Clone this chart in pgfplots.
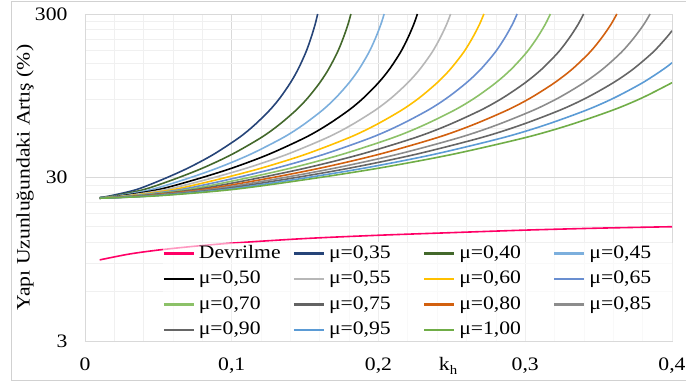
\documentclass[border=0pt]{standalone}
\usepackage{fontspec}
\setmainfont[FakeStretch=1.14]{Liberation Serif}
\usepackage{pgfplots}
\pgfplotsset{compat=1.18}
\definecolor{cdev}{HTML}{FF0066}
\definecolor{c35}{HTML}{264478}
\definecolor{c40}{HTML}{43682B}
\definecolor{c45}{HTML}{7CAFDD}
\definecolor{c50}{HTML}{000000}
\definecolor{c55}{HTML}{B7B7B7}
\definecolor{c60}{HTML}{FFC000}
\definecolor{c65}{HTML}{698ED0}
\definecolor{c70}{HTML}{8CC168}
\definecolor{c75}{HTML}{636363}
\definecolor{c80}{HTML}{D2600F}
\definecolor{c85}{HTML}{8C8C8C}
\definecolor{c90}{HTML}{666666}
\definecolor{c95}{HTML}{5B9BD5}
\definecolor{c100}{HTML}{70AD47}
\begin{document}
\begin{tikzpicture}[font=\fontsize{19}{22}\selectfont]
\useasboundingbox (-85pt,-44pt) rectangle (601pt,341pt);
\draw[black!18, line width=1pt] (700pt,339pt) -- (-73pt,339pt) -- (-73pt,-40pt) -- (700pt,-40pt);
\begin{axis}[
  at={(0pt,0pt)}, anchor=south west,
  scale only axis, width=587pt, height=327pt,
  xmin=0, xmax=0.4, ymode=log, ymin=3, ymax=300,
  xtick={0,0.1,0.2,0.3,0.4}, xticklabels={0,{0,1},{0,2},{0,3},{0,4}},
  ytick={3,30,300}, yticklabels={3,30,300},
  minor xtick={0.02,0.04,0.06,0.08,0.12,0.14,0.16,0.18,0.22,0.24,0.26,0.28,0.32,0.34,0.36,0.38},
  minor ytick={6,9,12,15,18,21,24,27,60,90,120,150,180,210,240,270},
  grid=both,
  major grid style={black!15, line width=0.8pt},
  minor grid style={black!6, line width=0.8pt},
  major tick length=0pt, minor tick length=0pt,
  axis line style={black!15, line width=0.8pt},
  yticklabel style={xshift=-14pt},
  xticklabel style={yshift=-13pt},
  ylabel={Yapı Uzunluğundaki Artış (\%)},
  ylabel style={at={(axis description cs:-0.102,0.5)}, anchor=center},
  xlabel={k\raisebox{-0.45ex}{\fontsize{13}{13}\selectfont h}},
  xlabel style={at={(axis description cs:0.6185,0)}, anchor=north, yshift=-13pt},
  legend columns=4,
  legend cell align=left,
  legend image code/.code={\draw[#1, line width=2.2pt] (0pt,0pt) -- (30pt,0pt);},
  legend style={at={(0.132,0.300)}, anchor=north west, draw=none,
    fill=white, fill opacity=0.6, text opacity=1, inner sep=0pt,
    column sep=0pt, row sep=4.5pt,
    nodes={text width=85pt, inner xsep=4pt, inner ysep=2pt, text height=13pt, text depth=4pt, align=left},
    /tikz/every even column/.append style={column sep=5pt}},
  every axis plot/.append style={line width=1.6pt, smooth},
]
\addplot[cdev] coordinates {(0.01,9.4)(0.03,10.2)(0.05,10.8)(0.075,11.4)(0.1,11.9)(0.15,12.7)(0.2,13.3)(0.25,13.8)(0.3,14.3)(0.35,14.7)(0.4,15.0)};
\addlegendentry{Devrilme}
\addplot[c35] coordinates {(0.01,22.6)(0.0175,23.2)(0.035,25.3)(0.0525,29.1)(0.07,34.2)(0.0875,41.5)(0.105,52.6)(0.1155,62.8)(0.126,77.7)(0.133,92.4)(0.14,114)(0.14525,138)(0.1505,175)(0.154,214)(0.1568,259)(0.15855,300)};
\addlegendentry{μ=0,35}
\addplot[c40] coordinates {(0.01,22.6)(0.02,23.2)(0.04,25.3)(0.06,29.1)(0.08,34.2)(0.1,41.5)(0.12,52.6)(0.132,62.8)(0.144,77.7)(0.152,92.4)(0.16,114)(0.166,138)(0.172,175)(0.176,214)(0.1792,259)(0.1812,300)};
\addlegendentry{μ=0,40}
\addplot[c45] coordinates {(0.01,22.55)(0.0225,23.2)(0.045,25.3)(0.0675,29.1)(0.09,34.2)(0.1125,41.5)(0.135,52.6)(0.1485,62.8)(0.162,77.7)(0.171,92.4)(0.18,114)(0.18675,138)(0.1935,175)(0.198,214)(0.2016,259)(0.20385,300)};
\addlegendentry{μ=0,45}
\addplot[c50] coordinates {(0.01,22.5)(0.025,23.2)(0.05,25.3)(0.075,29.1)(0.1,34.2)(0.125,41.5)(0.15,52.6)(0.165,62.8)(0.18,77.7)(0.19,92.4)(0.2,114)(0.2075,138)(0.215,175)(0.22,214)(0.224,259)(0.2265,300)};
\addlegendentry{μ=0,50}
\addplot[c55] coordinates {(0.01,22.5)(0.0275,23.2)(0.055,25.3)(0.0825,29.1)(0.11,34.2)(0.1375,41.5)(0.165,52.6)(0.1815,62.8)(0.198,77.7)(0.209,92.4)(0.22,114)(0.22825,138)(0.2365,175)(0.242,214)(0.2464,259)(0.24915,300)};
\addlegendentry{μ=0,55}
\addplot[c60] coordinates {(0.01,22.45)(0.03,23.2)(0.06,25.3)(0.09,29.1)(0.12,34.2)(0.15,41.5)(0.18,52.6)(0.198,62.8)(0.216,77.7)(0.228,92.4)(0.24,114)(0.249,138)(0.258,175)(0.264,214)(0.2688,259)(0.2718,300)};
\addlegendentry{μ=0,60}
\addplot[c65] coordinates {(0.01,22.45)(0.0325,23.2)(0.065,25.3)(0.0975,29.1)(0.13,34.2)(0.1625,41.5)(0.195,52.6)(0.2145,62.8)(0.234,77.7)(0.247,92.4)(0.26,114)(0.26975,138)(0.2795,175)(0.286,214)(0.2912,259)(0.29445,300)};
\addlegendentry{μ=0,65}
\addplot[c70] coordinates {(0.01,22.45)(0.035,23.2)(0.07,25.3)(0.105,29.1)(0.14,34.2)(0.175,41.5)(0.21,52.6)(0.231,62.8)(0.252,77.7)(0.266,92.4)(0.28,114)(0.2905,138)(0.301,175)(0.308,214)(0.3136,259)(0.3171,300)};
\addlegendentry{μ=0,70}
\addplot[c75] coordinates {(0.01,22.4)(0.0375,23.2)(0.075,25.3)(0.1125,29.1)(0.15,34.2)(0.1875,41.5)(0.225,52.6)(0.2475,62.8)(0.27,77.7)(0.285,92.4)(0.3,114)(0.31125,138)(0.3225,175)(0.33,214)(0.336,259)(0.33975,300)};
\addlegendentry{μ=0,75}
\addplot[c80] coordinates {(0.01,22.4)(0.04,23.2)(0.08,25.3)(0.12,29.1)(0.16,34.2)(0.2,41.5)(0.24,52.6)(0.264,62.8)(0.288,77.7)(0.304,92.4)(0.32,114)(0.332,138)(0.344,175)(0.352,214)(0.3584,259)(0.3624,300)};
\addlegendentry{μ=0,80}
\addplot[c85] coordinates {(0.01,22.4)(0.0425,23.2)(0.085,25.3)(0.1275,29.1)(0.17,34.2)(0.2125,41.5)(0.255,52.6)(0.2805,62.8)(0.306,77.7)(0.323,92.4)(0.34,114)(0.35275,138)(0.3655,175)(0.374,214)(0.3808,259)(0.38505,300)};
\addlegendentry{μ=0,85}
\addplot[c90] coordinates {(0.01,22.4)(0.045,23.2)(0.09,25.3)(0.135,29.1)(0.18,34.2)(0.225,41.5)(0.27,52.6)(0.297,62.8)(0.324,77.7)(0.342,92.4)(0.36,114)(0.3735,138)(0.387,175)(0.396,214)(0.4,237)};
\addlegendentry{μ=0,90}
\addplot[c95] coordinates {(0.01,22.4)(0.0475,23.2)(0.095,25.3)(0.1425,29.1)(0.19,34.2)(0.2375,41.5)(0.285,52.6)(0.3135,62.8)(0.342,77.7)(0.361,92.4)(0.38,114)(0.39425,138)(0.4,151)};
\addlegendentry{μ=0,95}
\addplot[c100] coordinates {(0.01,22.4)(0.05,23.2)(0.1,25.3)(0.15,29.1)(0.2,34.2)(0.25,41.5)(0.3,52.6)(0.33,62.8)(0.36,77.7)(0.38,92.4)(0.4,114)};
\addlegendentry{μ=1,00}
\end{axis}
\end{tikzpicture}
\end{document}
